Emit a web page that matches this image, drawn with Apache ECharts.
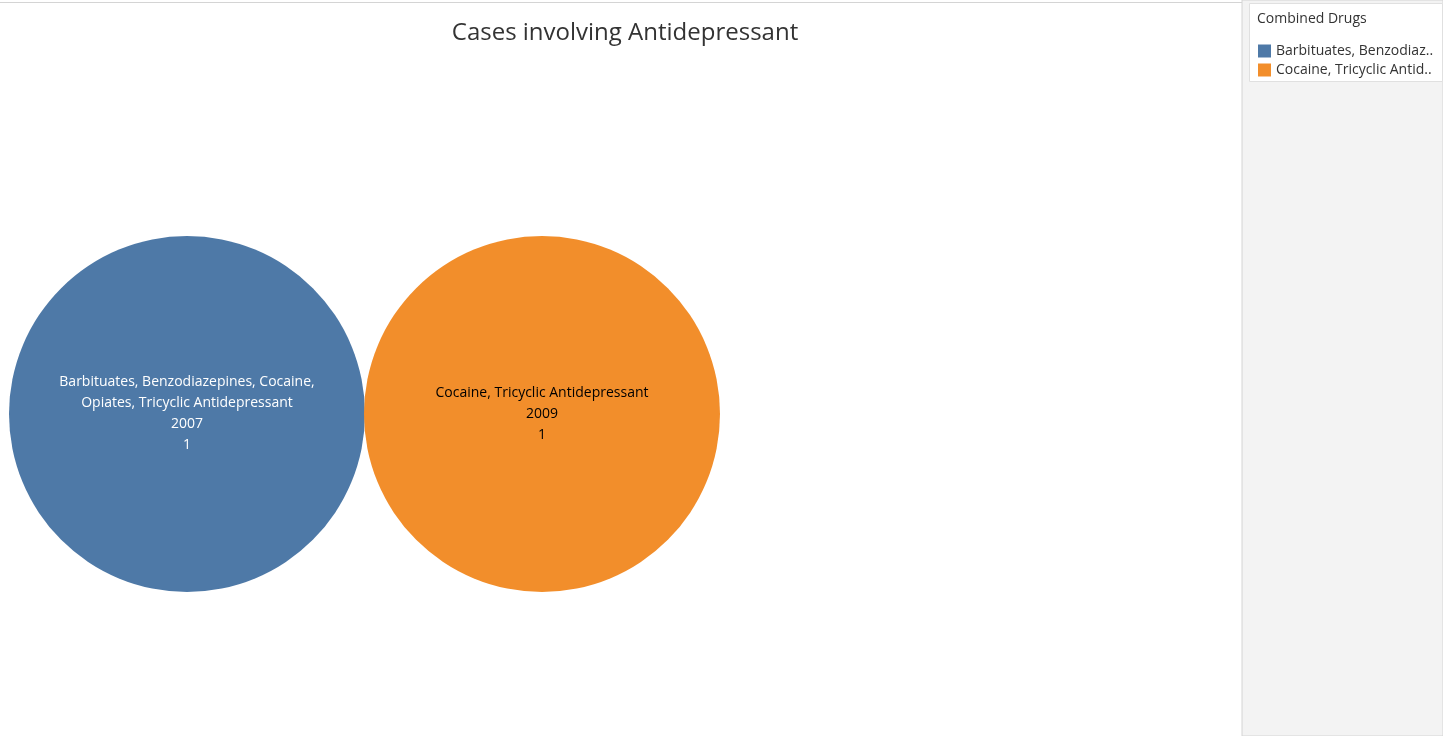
<!DOCTYPE html>
<html><head><meta charset="utf-8">
<script src="https://cdn.jsdelivr.net/npm/echarts@6/dist/echarts.min.js"></script>
<style>html,body{margin:0;padding:0;background:#fff}#c{width:1443px;height:736px}</style>
</head><body><div id="c"></div>
<script>
const categories = ["Barbituates, Benzodiazepines, Cocaine, Opiates, Tricyclic Antidepressant", "Cocaine, Tricyclic Antidepressant"];
const years = ["2007", "2009"];
const counts = [1, 1];
const colors = ["#4e79a7", "#f28e2b"];
const labelColors = ["#ffffff", "#000000"];

const chart = echarts.init(document.getElementById("c"));
const series = categories.map((name, i) => ({
  type: "scatter",
  name: name,
  symbolSize: 356,
  itemStyle: { color: colors[i], opacity: 1 },
  data: [{ value: [i, counts[i]], year: years[i] }],
  label: {
    show: true, position: "inside",
    color: labelColors[i], fontSize: 14, lineHeight: 21,
    fontFamily: "Open Sans",
    formatter: p => (i === 0 ? "Barbituates, Benzodiazepines, Cocaine,\nOpiates, Tricyclic Antidepressant" : p.seriesName) + "\n" + p.data.year + "\n" + p.data.value[1]
  },
  emphasis: { disabled: true }
}));
chart.setOption({
  animation: false,
  title: { text: "Cases involving Antidepressant", left: 620, top: 16, textAlign: "center",
    textStyle: { fontSize: 24, fontWeight: "normal", color: "#333", fontFamily: "Open Sans" } },
  grid: { left: 9.5, width: 710, top: 236, height: 356 },
  xAxis: { type: "category", data: [0, 1], show: false, boundaryGap: true },
  yAxis: { type: "value", min: 0, max: 2, show: false },
  legend: {
    orient: "vertical", left: 1253, top: 39, itemWidth: 13, itemHeight: 13, itemGap: 5,
    icon: "rect", selectedMode: false,
    textStyle: { fontSize: 14, color: "#333", fontFamily: "Open Sans", width: 165, overflow: "truncate", ellipsis: ".." }
  },
  graphic: [
    { type: "rect", shape: { x: 1242, y: 0, width: 201, height: 736 }, style: { fill: "#f3f3f3", stroke: "#d4d4d4", lineWidth: 1 }, z: -10 },
    { type: "rect", shape: { x: 0, y: 2, width: 1242, height: 1 }, style: { fill: "#d4d4d4" }, z: -10 },
    { type: "rect", shape: { x: 1249.5, y: 3.5, width: 193, height: 78 }, style: { fill: "#fff", stroke: "#e0e0e0" }, z: -9 },
    { type: "text", left: 1257, top: 12, style: { text: "Combined Drugs", fontSize: 14, fill: "#333", fontFamily: "Open Sans" } }
  ],
  series: series
});
</script></body></html>
